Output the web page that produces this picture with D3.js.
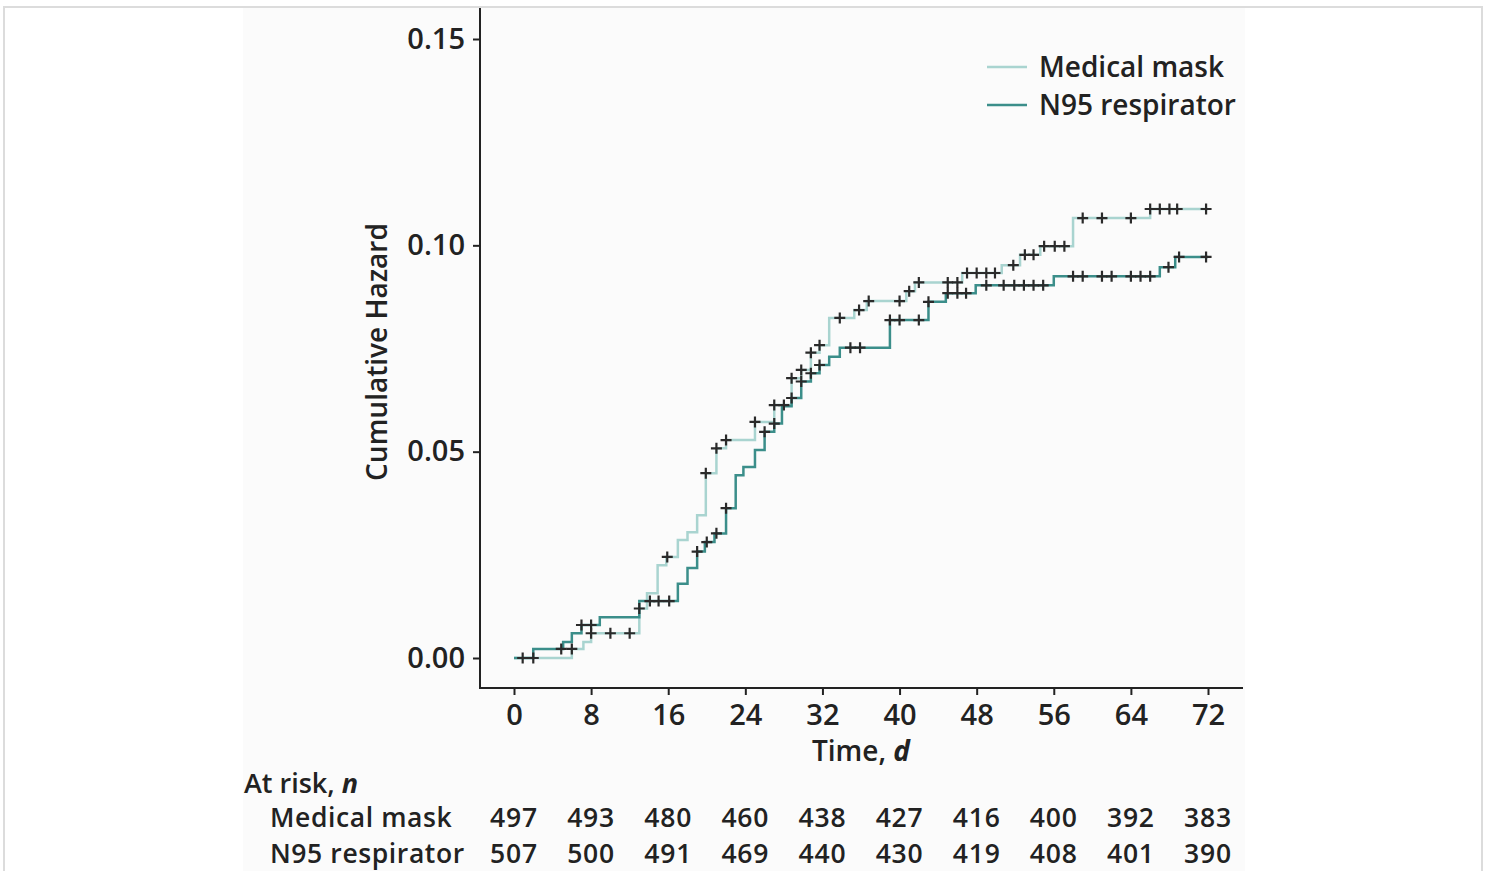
<!DOCTYPE html>
<html><head><meta charset="utf-8">
<script src="https://cdn.jsdelivr.net/npm/d3@7"></script>
<style>
html,body{margin:0;padding:0;background:#fff;}
svg{display:block;font-family:"Open Sans",sans-serif;}
</style></head>
<body><svg id="c" width="1489" height="871"></svg>
<script>
// ---- data ----
const timeTicks = [0, 8, 16, 24, 32, 40, 48, 56, 64, 72];
const hazardTicks = [0, 0.05, 0.10, 0.15];
const seriesNames = ["Medical mask", "N95 respirator"];

const maskTimes  = [0, 6.0, 7.2, 8.0, 13.0, 13.8, 14.9, 15.8, 17.0, 18.0, 19.0, 19.9, 21.0, 22.0, 25.0, 27.0, 28.8, 29.8, 30.8, 31.7, 32.7, 35.3, 36.6, 40.7, 41.6, 46.5, 50.6, 52.5, 54.6, 58.0, 66.0];
const maskValues = [0, 0.0022, 0.0039, 0.0060, 0.0120, 0.0157, 0.0225, 0.0245, 0.0286, 0.0305, 0.0346, 0.0448, 0.0508, 0.0528, 0.0572, 0.0613, 0.0678, 0.0698, 0.0740, 0.0758, 0.0824, 0.0843, 0.0865, 0.0889, 0.0910, 0.0933, 0.0952, 0.0977, 0.0998, 0.1066, 0.1088];
const maskCensor = [0.9, 2.0, 6.0, 8.0, 10.0, 12.0, 13.0, 15.9, 19.9, 21.0, 22.0, 25.0, 27.0, 28.0, 28.8, 29.8, 30.8, 31.7, 33.8, 35.8, 36.8, 40.0, 41.0, 42.0, 45.0, 46.0, 47.0, 48.0, 49.0, 49.9, 51.8, 53.0, 53.9, 55.0, 56.1, 57.1, 59.0, 61.0, 64.0, 66.0, 67.0, 68.0, 68.8, 71.8];

const n95Times  = [0, 2.0, 5.1, 6.0, 7.0, 8.9, 13.0, 17.0, 18.0, 19.0, 19.8, 20.8, 22.0, 23.0, 23.8, 25.0, 26.0, 27.0, 27.8, 28.8, 29.8, 30.8, 31.7, 32.7, 33.8, 39.0, 43.0, 44.8, 47.9, 56.0, 67.0, 68.6];
const n95Values = [0, 0.0022, 0.0039, 0.0060, 0.0080, 0.0099, 0.0138, 0.0180, 0.0218, 0.0258, 0.0281, 0.0302, 0.0363, 0.0443, 0.0463, 0.0504, 0.0548, 0.0568, 0.0610, 0.0630, 0.0670, 0.0690, 0.0710, 0.0730, 0.0752, 0.0819, 0.0863, 0.0884, 0.0903, 0.0925, 0.0947, 0.0972];
const n95Censor = [4.9, 7.0, 8.0, 14.1, 15.0, 16.1, 19.0, 20.0, 21.0, 22.0, 26.0, 27.0, 28.8, 29.8, 30.8, 31.7, 34.9, 35.9, 39.0, 40.0, 42.0, 43.0, 45.0, 46.0, 46.9, 49.0, 50.8, 51.9, 52.9, 53.9, 54.9, 58.0, 59.0, 61.0, 62.0, 64.0, 65.0, 66.0, 67.9, 69.0, 71.8];

const maskAtRisk = [497, 493, 480, 460, 438, 427, 416, 400, 392, 383];
const n95AtRisk  = [507, 500, 491, 469, 440, 430, 419, 408, 401, 390];

const maskColor = "#a9d4d0";
const n95Color = "#3b8e8a";

// ---- drawing ----
const svg = d3.select("#c");
const W = 1489, H = 871;

svg.append("rect").attr("width", W).attr("height", H).attr("fill", "#fff");
svg.append("rect").attr("x", 243).attr("y", 8).attr("width", 1002).attr("height", H).attr("fill", "#fbfbfb");
svg.append("rect").attr("x", 4).attr("y", 7).attr("width", 1478).attr("height", H + 10)
  .attr("fill", "none").attr("stroke", "#dcdcdc").attr("stroke-width", 2);

const x = d3.scaleLinear().domain([0, 72]).range([514, 1208]);
const y = d3.scaleLinear().domain([0, 0.15]).range([658, 39]);
const axisX = 480, axisY = 688, axisTop = 8, axisRight = 1243;

// axes lines
svg.append("line").attr("x1", axisX).attr("x2", axisX).attr("y1", axisTop).attr("y2", axisY + 1)
  .attr("stroke", "#222").attr("stroke-width", 2);
svg.append("line").attr("x1", axisX - 1).attr("x2", axisRight).attr("y1", axisY).attr("y2", axisY)
  .attr("stroke", "#222").attr("stroke-width", 2);

const yAxis = svg.append("g").attr("transform", `translate(${axisX},0)`)
  .call(d3.axisLeft(y).tickValues(hazardTicks).tickFormat(d3.format(".2f")).tickSize(7).tickPadding(8));
yAxis.select(".domain").remove();
yAxis.selectAll("line").attr("stroke", "#222").attr("stroke-width", 2);
yAxis.selectAll("text").attr("font-size", 29).attr("font-weight", 600).attr("fill", "#222")
  .attr("font-family", "Open Sans");

const xAxis = svg.append("g").attr("transform", `translate(0,${axisY})`)
  .call(d3.axisBottom(x).tickValues(timeTicks).tickSize(7).tickPadding(9));
xAxis.select(".domain").remove();
xAxis.selectAll("line").attr("stroke", "#222").attr("stroke-width", 2);
xAxis.selectAll("text").attr("font-size", 29).attr("font-weight", 600).attr("fill", "#222")
  .attr("font-family", "Open Sans");

// axis titles
svg.append("text").attr("transform", `translate(387,352) rotate(-90)`)
  .attr("text-anchor", "middle").attr("font-size", 28).attr("font-weight", 600).attr("fill", "#222")
  .text("Cumulative Hazard");
const tt = svg.append("text").attr("x", x(36)).attr("y", 761).attr("text-anchor", "middle")
  .attr("font-size", 28).attr("font-weight", 600).attr("fill", "#222");
tt.append("tspan").text("Time, ");
tt.append("tspan").attr("font-style", "italic").attr("font-weight", 700).text("d");

// step curves
function stepData(times, values) {
  const pts = times.map((t, i) => [t, values[i]]);
  pts.push([72, values[values.length - 1]]);
  return pts;
}
const line = d3.line().x(d => x(d[0])).y(d => y(d[1])).curve(d3.curveStepAfter);

svg.append("path").datum(stepData(maskTimes, maskValues))
  .attr("d", line).attr("fill", "none").attr("stroke", maskColor).attr("stroke-width", 2.5);
svg.append("path").datum(stepData(n95Times, n95Values))
  .attr("d", line).attr("fill", "none").attr("stroke", n95Color).attr("stroke-width", 2.5);

function valueAt(times, values, t) {
  let v = values[0];
  for (let i = 0; i < times.length; i++) if (times[i] <= t + 1e-9) v = values[i];
  return v;
}
function drawCensor(times, values, cens) {
  const s = 5.5;
  svg.append("g").selectAll("path").data(cens).join("path")
    .attr("d", t => {
      const cx = x(t), cy = y(valueAt(times, values, t));
      return `M${cx - s},${cy}H${cx + s}M${cx},${cy - s}V${cy + s}`;
    })
    .attr("stroke", "#2a2a2a").attr("stroke-width", 2.2).attr("fill", "none");
}
drawCensor(maskTimes, maskValues, maskCensor);
drawCensor(n95Times, n95Values, n95Censor);

// legend
const legend = svg.append("g");
[maskColor, n95Color].forEach((c, i) => {
  const ly = 67 + i * 38;
  legend.append("line").attr("x1", 987).attr("x2", 1027).attr("y1", ly).attr("y2", ly)
    .attr("stroke", c).attr("stroke-width", 2.5);
  legend.append("text").attr("x", 1039).attr("y", ly + 10).attr("font-size", 28).attr("font-weight", 600)
    .attr("fill", "#222").text(seriesNames[i]);
});

// at-risk table
const ar = svg.append("text").attr("x", 244).attr("y", 793).attr("font-size", 27).attr("font-weight", 600).attr("fill", "#222");
ar.append("tspan").text("At risk, ");
ar.append("tspan").attr("font-style", "italic").attr("font-weight", 700).text("n");

[[maskAtRisk, 827], [n95AtRisk, 863]].forEach(([arr, yy], i) => {
  svg.append("text").attr("x", 270).attr("y", yy).attr("font-size", 26.5).attr("font-weight", 600)
    .attr("letter-spacing", 0.6).attr("fill", "#222").text(seriesNames[i]);
  svg.append("g").selectAll("text").data(arr).join("text")
    .attr("x", (d, j) => x(timeTicks[j])).attr("y", yy).attr("text-anchor", "middle")
    .attr("font-size", 26.5).attr("font-weight", 600).attr("letter-spacing", 0.8).attr("fill", "#222").text(d => d);
});
</script></body></html>
